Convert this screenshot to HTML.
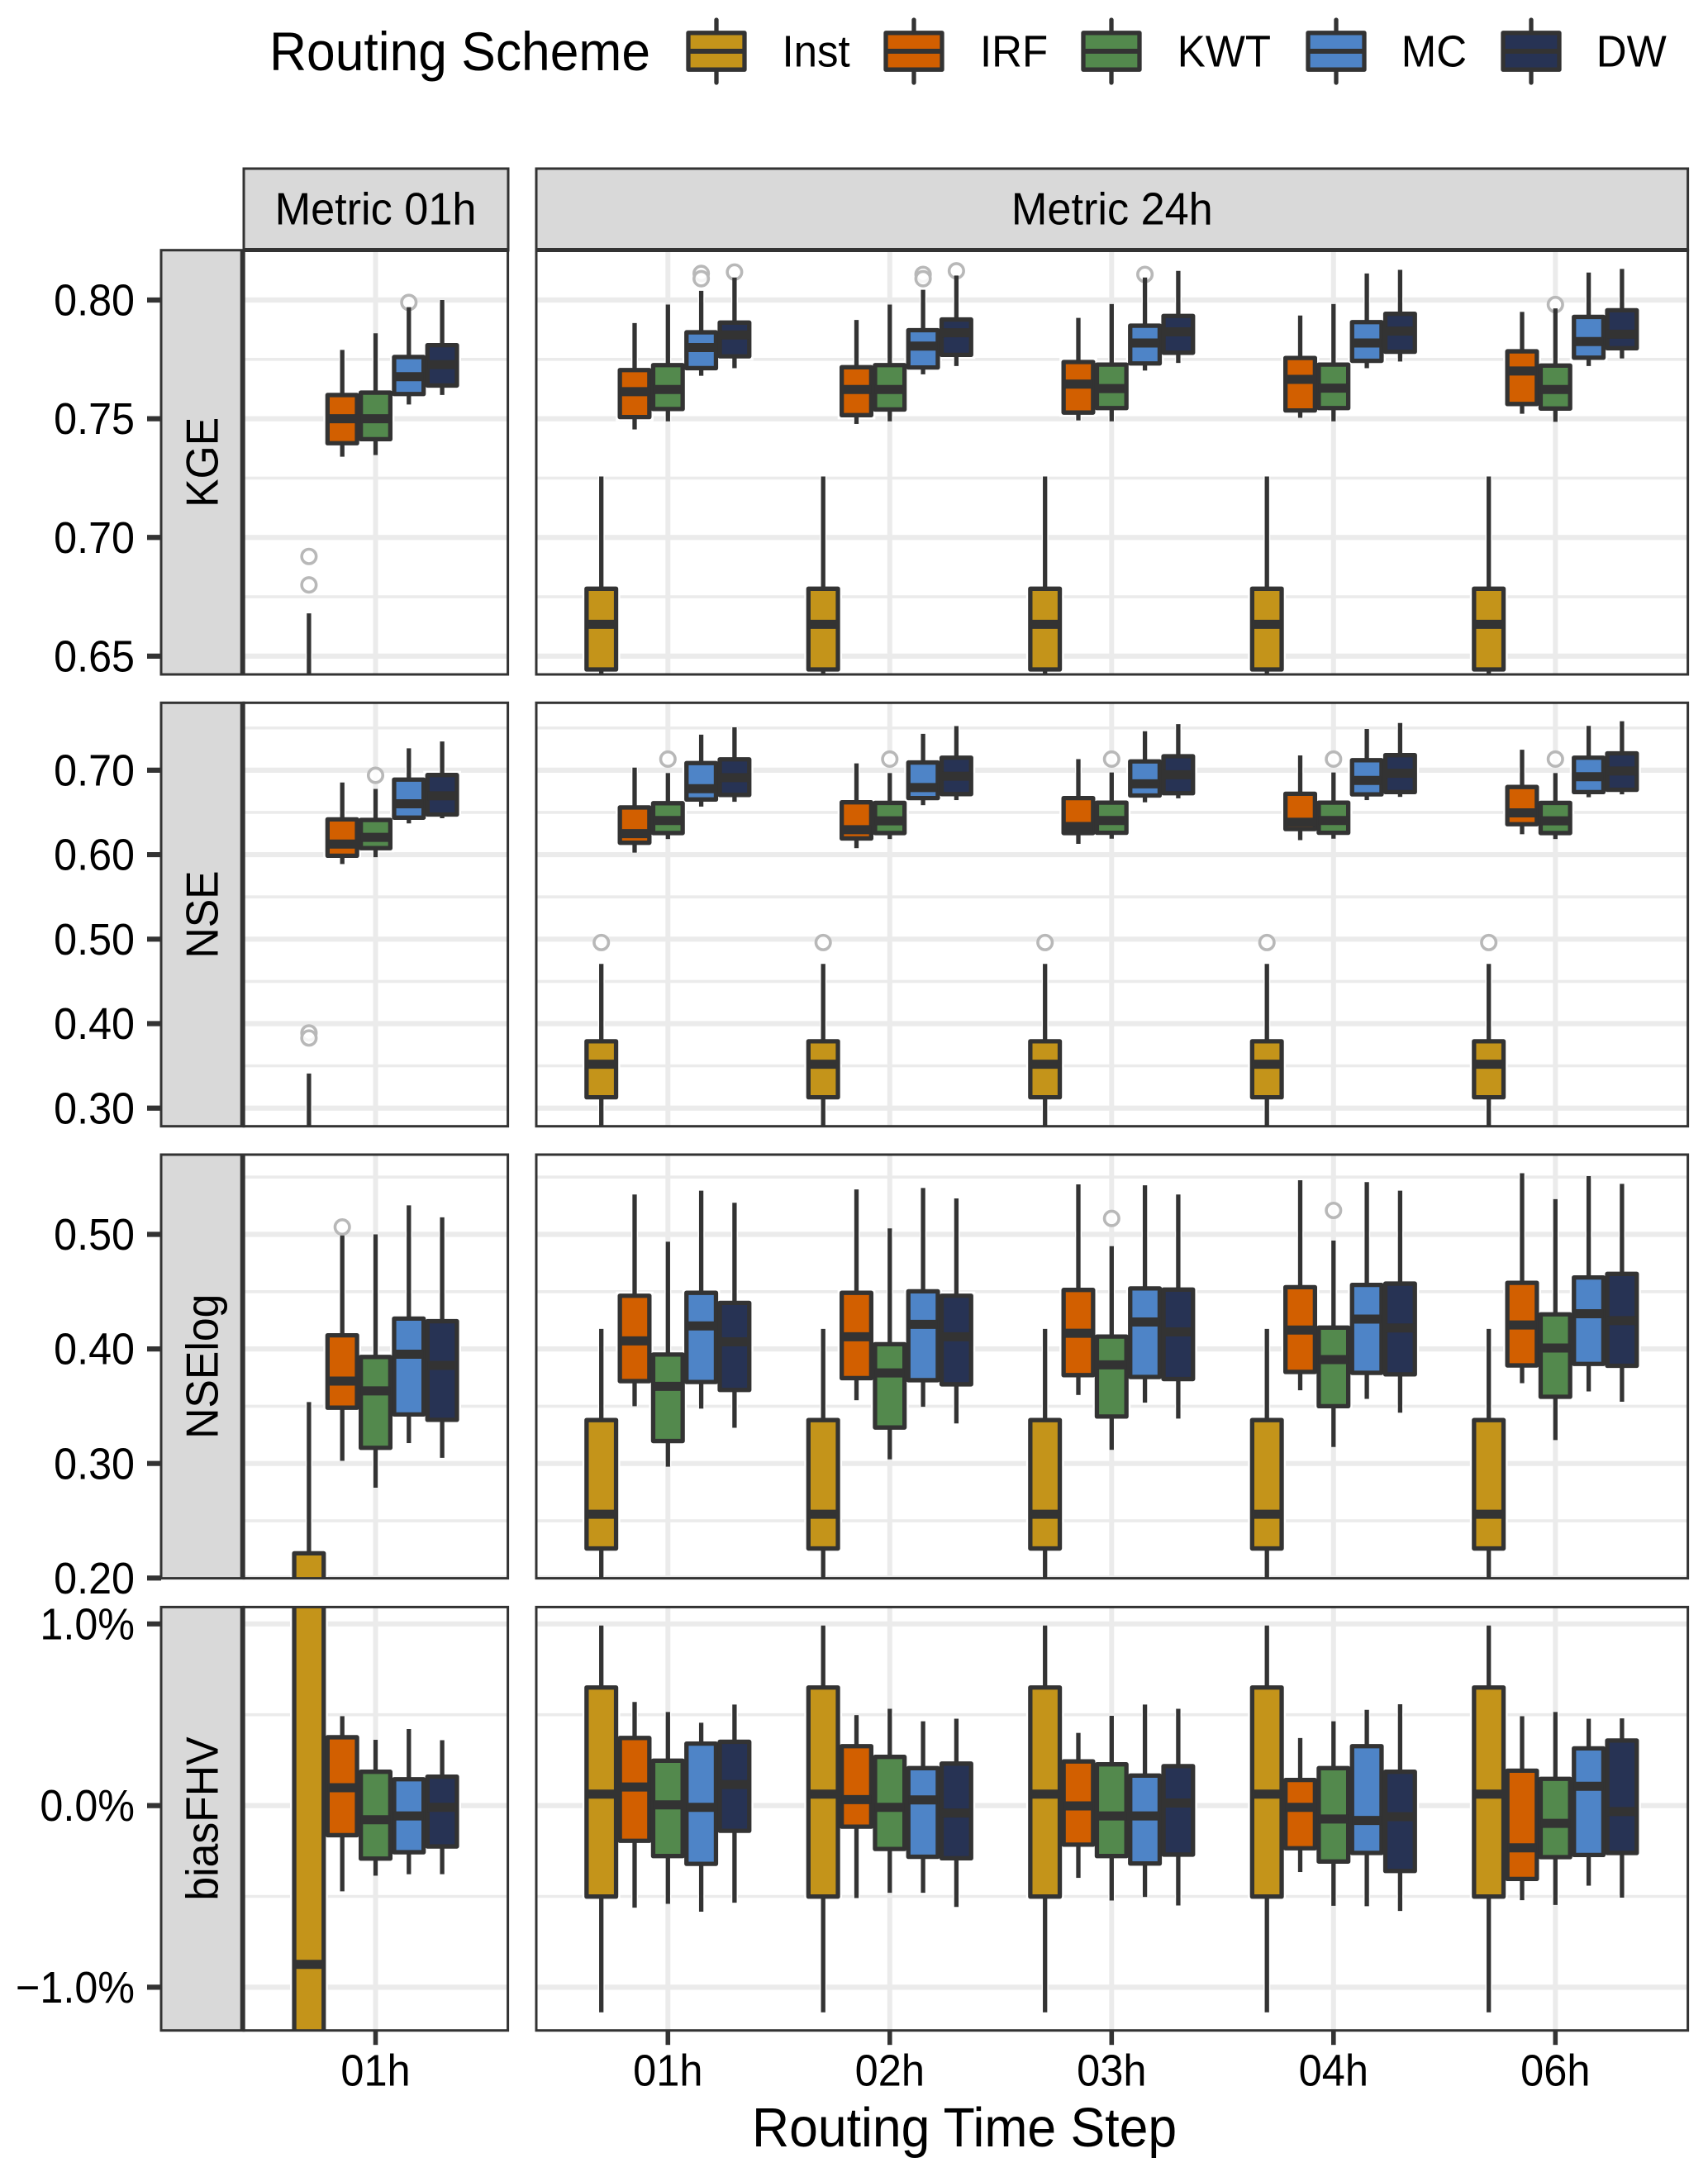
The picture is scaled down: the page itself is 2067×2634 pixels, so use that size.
<!DOCTYPE html>
<html lang="en">
<head>
<meta charset="utf-8">
<title>Routing Scheme Boxplots</title>
<style>
html,body{margin:0;padding:0;background:#fff;}
svg{display:block;font-family:"Liberation Sans",Arial,sans-serif;}
text{fill:#000;}
</style>
</head>
<body>
<svg id="chart" xmlns="http://www.w3.org/2000/svg" width="2067" height="2634" viewBox="0 0 2067 2634">
  <rect x="0" y="0" width="2067" height="2634" fill="#fff"/>
  <g id="legend">
    <text transform="translate(326 85) scale(0.945 1)" font-size="66">Routing Scheme</text>
  </g>
  <g id="panels"></g>
  <g>
    <rect x="295" y="204" width="320" height="99" fill="#d9d9d9" stroke="#333" stroke-width="3"/>
    <line x1="293.5" x2="616" y1="302.5" y2="302.5" stroke="#333" stroke-width="5"/>
    <text transform="translate(454.5 271.5) scale(0.95 1)" font-size="55" text-anchor="middle">Metric 01h</text>
  </g>
  <g>
    <rect x="649" y="204" width="1393.6" height="99" fill="#d9d9d9" stroke="#333" stroke-width="3"/>
    <line x1="647.5" x2="2044" y1="302.5" y2="302.5" stroke="#333" stroke-width="5"/>
    <text transform="translate(1345.8 271.5) scale(0.95 1)" font-size="55" text-anchor="middle">Metric 24h</text>
  </g>
  <text transform="translate(910 2597) scale(0.94 1)" font-size="66.5">Routing Time Step</text>
</svg>
<script>
// ---- categories ----
const schemes = ['Inst', 'IRF', 'KWT', 'MC', 'DW'];
const timeSteps24h = ['01h', '02h', '03h', '04h', '06h'];
const timeSteps01h = ['01h'];
const metricNames = ['KGE', 'NSE', 'NSElog', 'biasFHV'];

// ---- tick values ----
const kgeTicks = [0.65, 0.70, 0.75, 0.80];
const kgeMinorTicks = [0.675, 0.725, 0.775];
const nseTicks = [0.30, 0.40, 0.50, 0.60, 0.70];
const nseMinorTicks = [0.35, 0.45, 0.55, 0.65, 0.75];
const nselogTicks = [0.20, 0.30, 0.40, 0.50];
const nselogMinorTicks = [0.25, 0.35, 0.45, 0.55];
const biasTicks = [-1, 0, 1];
const biasMinorTicks = [-0.5, 0.5];

// ---- box statistics: one row per scheme, [low whisker, q1, median, q3, high whisker] ----
const kgeM01_01h = [[0.60,0.61,0.62,0.63,0.668],[0.734,0.7397,0.75,0.76,0.779],[0.7347,0.7414,0.75,0.761,0.786],[0.756,0.7604,0.7677,0.776,0.797],[0.76,0.764,0.7728,0.781,0.80]];
const kgeM24_01h = [[0.6425,0.6444,0.6634,0.6784,0.7257],[0.7455,0.7507,0.7614,0.7705,0.7903],[0.7489,0.7541,0.7623,0.7726,0.7981],[0.7681,0.7713,0.78,0.7864,0.8039],[0.7713,0.7763,0.7853,0.7905,0.8095]];
const kgeM24_02h = [[0.6425,0.6444,0.6634,0.6784,0.7257],[0.7478,0.7515,0.7623,0.7717,0.7916],[0.7489,0.7539,0.7623,0.7726,0.7981],[0.7687,0.7716,0.7806,0.7873,0.8043],[0.7722,0.7769,0.7862,0.7918,0.8103]];
const kgeM24_03h = [[0.6425,0.6444,0.6634,0.6784,0.7257],[0.7493,0.7526,0.7646,0.7739,0.7925],[0.7489,0.7545,0.7627,0.7728,0.7983],[0.7703,0.7733,0.7819,0.7892,0.8095],[0.7735,0.7778,0.7866,0.7933,0.8123]];
const kgeM24_04h = [[0.6425,0.6444,0.6634,0.6784,0.7257],[0.7504,0.7535,0.7666,0.7756,0.7935],[0.7489,0.7545,0.7629,0.7728,0.7983],[0.7713,0.7744,0.7819,0.7907,0.8112],[0.7741,0.7782,0.7869,0.7942,0.8127]];
const kgeM24_06h = [[0.6425,0.6444,0.6634,0.6784,0.7257],[0.7521,0.7562,0.7701,0.7784,0.795],[0.7487,0.7543,0.7623,0.7724,0.7965],[0.7722,0.7757,0.7825,0.7929,0.8116],[0.7754,0.7797,0.7856,0.7957,0.8131]];

const nseM01_01h = [[0.15,0.17,0.20,0.23,0.341],[0.5889,0.5987,0.6125,0.6418,0.6855],[0.597,0.6077,0.6205,0.6411,0.6778],[0.637,0.6438,0.6603,0.6889,0.7259],[0.6431,0.6475,0.6697,0.6943,0.734]];
const nseM24_01h = [[0.27,0.3128,0.3519,0.3791,0.4707],[0.6024,0.6141,0.6249,0.6559,0.703],[0.6185,0.6256,0.6404,0.6609,0.6966],[0.6569,0.6653,0.6781,0.7084,0.7421],[0.6626,0.6707,0.6912,0.7128,0.7508]];
const nseM24_02h = [[0.27,0.3128,0.3519,0.3791,0.4707],[0.6077,0.6192,0.6295,0.662,0.7081],[0.6185,0.6256,0.6401,0.6613,0.6966],[0.6586,0.667,0.6795,0.7091,0.7431],[0.6646,0.6717,0.6929,0.7148,0.7522]];
const nseM24_03h = [[0.27,0.3128,0.3519,0.3791,0.4707],[0.6128,0.6256,0.6333,0.667,0.7131],[0.6189,0.6259,0.6404,0.6616,0.6973],[0.662,0.67,0.6838,0.7104,0.7461],[0.6667,0.6727,0.6946,0.7165,0.7545]];
const nseM24_04h = [[0.27,0.3128,0.3519,0.3791,0.4707],[0.6172,0.6303,0.6384,0.6721,0.7175],[0.6189,0.6259,0.6404,0.6616,0.6973],[0.6646,0.6714,0.6879,0.7118,0.7488],[0.6684,0.6741,0.6963,0.7178,0.7559]];
const nseM24_06h = [[0.27,0.3128,0.3519,0.3791,0.4707],[0.6242,0.636,0.6495,0.6801,0.7242],[0.6185,0.6256,0.6401,0.6613,0.6966],[0.668,0.6741,0.6923,0.7148,0.7525],[0.6714,0.6768,0.699,0.7199,0.7579]];

const logM01_01h = [[0.10,0.14,0.17,0.2216,0.3536],[0.3023,0.3487,0.3719,0.4119,0.499],[0.2789,0.3137,0.3634,0.393,0.50],[0.3178,0.3428,0.3954,0.4265,0.5253],[0.3049,0.3381,0.3856,0.4242,0.5149]];
const logM24_01h = [[0.19,0.2258,0.2557,0.3379,0.4175],[0.35,0.3719,0.407,0.4464,0.5348],[0.2972,0.3196,0.3673,0.3951,0.4936],[0.3479,0.3711,0.4201,0.449,0.5381],[0.3312,0.3642,0.4062,0.4402,0.5276]];
const logM24_02h = [[0.19,0.2258,0.2557,0.3379,0.4175],[0.3552,0.3745,0.4106,0.449,0.5392],[0.3036,0.3314,0.3791,0.4041,0.5052],[0.3495,0.3727,0.4214,0.4503,0.5405],[0.335,0.3691,0.4106,0.4464,0.5314]];
const logM24_03h = [[0.19,0.2258,0.2557,0.3379,0.4175],[0.3598,0.3771,0.4137,0.4515,0.5436],[0.3119,0.341,0.3861,0.4108,0.4897],[0.3531,0.3755,0.4235,0.4528,0.5428],[0.3392,0.3737,0.4149,0.4518,0.5348]];
const logM24_04h = [[0.19,0.2258,0.2557,0.3379,0.4175],[0.3639,0.3799,0.4165,0.4539,0.5472],[0.3144,0.35,0.3907,0.4186,0.4946],[0.3564,0.3791,0.426,0.4559,0.5456],[0.3443,0.3778,0.4183,0.457,0.5381]];
const logM24_06h = [[0.19,0.2258,0.2557,0.3379,0.4175],[0.3701,0.3856,0.4209,0.4577,0.5534],[0.3204,0.3582,0.4008,0.4302,0.5307],[0.3629,0.3869,0.4307,0.4624,0.5508],[0.3539,0.3853,0.4247,0.4655,0.5441]];

const biasM01_01h = [[-2.2,-1.8,-0.874,1.6,1.9],[-0.472,-0.163,0.098,0.376,0.492],[-0.386,-0.292,-0.078,0.186,0.362],[-0.378,-0.257,-0.057,0.145,0.421],[-0.378,-0.225,-0.01,0.159,0.36]];
const biasM24_01h = [[-1.138,-0.501,0.063,0.65,0.991],[-0.562,-0.194,0.102,0.372,0.57],[-0.541,-0.278,0.004,0.247,0.515],[-0.584,-0.321,-0.01,0.341,0.456],[-0.535,-0.139,0.116,0.351,0.556]];
const biasM24_02h = [[-1.138,-0.501,0.063,0.65,0.991],[-0.509,-0.116,0.033,0.327,0.498],[-0.48,-0.239,-0.01,0.268,0.533],[-0.48,-0.282,0.031,0.206,0.464],[-0.558,-0.29,-0.041,0.231,0.478]];
const biasM24_03h = [[-1.138,-0.501,0.063,0.65,0.991],[-0.398,-0.215,-0.002,0.243,0.4],[-0.523,-0.278,-0.057,0.227,0.494],[-0.503,-0.319,-0.057,0.165,0.556],[-0.55,-0.27,0.014,0.217,0.533]];
const biasM24_04h = [[-1.138,-0.501,0.063,0.65,0.991],[-0.366,-0.235,-0.01,0.141,0.372],[-0.552,-0.308,-0.074,0.206,0.464],[-0.554,-0.261,-0.082,0.327,0.527],[-0.58,-0.36,-0.061,0.186,0.558]];
const biasM24_06h = [[-1.138,-0.501,0.063,0.65,0.991],[-0.521,-0.404,-0.233,0.192,0.492],[-0.547,-0.284,-0.098,0.147,0.515],[-0.441,-0.272,0.106,0.315,0.478],[-0.507,-0.261,-0.033,0.358,0.48]];

// ---- outliers: [column, time-step index, scheme index, value] ----
const kgeOutliers = [[0,0,0,0.692],[0,0,0,0.680],[0,0,3,0.799],[1,0,3,0.8112],[1,0,3,0.809],[1,0,4,0.8118],[1,1,3,0.8108],[1,1,3,0.809],[1,1,4,0.8123],[1,2,3,0.8108],[1,4,2,0.7981]];
const nseOutliers = [[0,0,0,0.389],[0,0,0,0.383],[0,0,2,0.6939],[1,0,0,0.496],[1,1,0,0.496],[1,2,0,0.496],[1,3,0,0.496],[1,4,0,0.496],[1,0,2,0.7131],[1,1,2,0.7131],[1,2,2,0.7131],[1,3,2,0.7131],[1,4,2,0.7131]];
const logOutliers = [[0,0,1,0.5064],[1,2,2,0.5139],[1,3,2,0.5209]];
const biasOutliers = [];

// ---- layout and style ----
const svgNS = 'http://www.w3.org/2000/svg';
const schemeColors = ['#c4941a', '#d25f00', '#53894d', '#4e84c7', '#273354'];
const ink = '#333333';
const columns = [
  { left: 295, right: 614.6, firstCenter: 454.5, step: 268.5, steps: timeSteps01h, name: 'metric-01h' },
  { left: 649, right: 2042.6, firstCenter: 808.3, step: 268.5, steps: timeSteps24h, name: 'metric-24h' }
];
const dodge = 40.3;
const boxWidth = 35.7;
const rows = [
  { label: metricNames[0], top: 302.7, bottom: 816, domain: [0.6423, 0.821], ticks: kgeTicks, minor: kgeMinorTicks, fmt: function (v) { return v.toFixed(2); }, data: [[kgeM01_01h], [kgeM24_01h, kgeM24_02h, kgeM24_03h, kgeM24_04h, kgeM24_06h]], outliers: kgeOutliers },
  { label: metricNames[1], top: 850.3, bottom: 1362.7, domain: [0.2785, 0.7798], ticks: nseTicks, minor: nseMinorTicks, fmt: function (v) { return v.toFixed(2); }, data: [[nseM01_01h], [nseM24_01h, nseM24_02h, nseM24_03h, nseM24_04h, nseM24_06h]], outliers: nseOutliers },
  { label: metricNames[2], top: 1397, bottom: 1909.6, domain: [0.1998, 0.5696], ticks: nselogTicks, minor: nselogMinorTicks, fmt: function (v) { return v.toFixed(2); }, data: [[logM01_01h], [logM24_01h, logM24_02h, logM24_03h, logM24_04h, logM24_06h]], outliers: logOutliers },
  { label: metricNames[3], top: 1944.4, bottom: 2456.7, domain: [-1.238, 1.0928], ticks: biasTicks, minor: biasMinorTicks, fmt: function (v) { return (v < 0 ? '\u2212' : '') + Math.abs(v).toFixed(1) + '%'; }, data: [[biasM01_01h], [biasM24_01h, biasM24_02h, biasM24_03h, biasM24_04h, biasM24_06h]], outliers: biasOutliers }
];

function el(tag, parent, props) {
  const node = document.createElementNS(svgNS, tag);
  for (const k in props) node.setAttribute(k, props[k]);
  parent.appendChild(node);
  return node;
}
function yScale(row, v) {
  return row.bottom - (v - row.domain[0]) / (row.domain[1] - row.domain[0]) * (row.bottom - row.top);
}
function xCenter(col, stepIndex) {
  return col.firstCenter + stepIndex * col.step;
}
function xDodged(col, stepIndex, schemeIndex) {
  return xCenter(col, stepIndex) + (schemeIndex - 2) * dodge;
}

const panelsRoot = document.getElementById('panels');
const defs = el('defs', panelsRoot, {});

rows.forEach(function (row, r) {
  const rowSlug = row.label.toLowerCase();
  const rowGroup = el('g', panelsRoot, {});
  
  

  // strip on the left
  const strip = el('rect', rowGroup, { x: 195, y: row.top, width: 100, height: row.bottom - row.top, fill: '#d9d9d9', stroke: ink, 'stroke-width': 3 });
  
  
  const cy = (row.top + row.bottom) / 2;
  const stripLabel = el('text', rowGroup, { transform: 'translate(263.5 ' + cy + ') rotate(-90) scale(0.94 1)', 'font-size': 55, 'text-anchor': 'middle' });
  stripLabel.textContent = row.label;
  
  

  // y axis ticks and labels
  row.ticks.forEach(function (t) {
    const ty = yScale(row, t);
    const tick = el('line', rowGroup, { x1: 178, x2: 195, y1: ty, y2: ty, stroke: ink, 'stroke-width': 6.2 });
    
    
    const lab = el('text', rowGroup, { transform: 'translate(163 ' + (ty + 18.6) + ') scale(0.94 1)', 'font-size': 53.5, 'text-anchor': 'end' });
    lab.textContent = row.fmt(t);
    
    
  });

  columns.forEach(function (col, c) {
    const panel = el('g', rowGroup, {});
    
    
    const clipId = 'clip-' + r + '-' + c;
    const clip = el('clipPath', defs, { id: clipId });
    el('rect', clip, { x: col.left, y: row.top, width: col.right - col.left, height: row.bottom - row.top });

    const bg = el('rect', panel, { x: col.left, y: row.top, width: col.right - col.left, height: row.bottom - row.top, fill: '#ffffff' });
    
    

    const inner = el('g', panel, { 'clip-path': 'url(#' + clipId + ')' });

    row.minor.forEach(function (t) {
      const gy = yScale(row, t);
      const line = el('line', inner, { x1: col.left, x2: col.right, y1: gy, y2: gy, stroke: '#ebebeb', 'stroke-width': 3.6 });
      
      
    });
    row.ticks.forEach(function (t) {
      const gy = yScale(row, t);
      const line = el('line', inner, { x1: col.left, x2: col.right, y1: gy, y2: gy, stroke: '#ebebeb', 'stroke-width': 6.2 });
      
      
    });
    col.steps.forEach(function (s, si) {
      const gx = xCenter(col, si);
      const line = el('line', inner, { x1: gx, x2: gx, y1: row.top, y2: row.bottom, stroke: '#ebebeb', 'stroke-width': 6 });
      
      
    });

    // pale halo that keeps gridlines clear of the marks
    const halo = el('g', inner, {});
    
    
    row.data[c].forEach(function (stepData, si) {
      stepData.forEach(function (stat, k) {
        const x = xDodged(col, si, k);
        el('line', halo, { x1: x, x2: x, y1: yScale(row, stat[4]), y2: yScale(row, stat[0]), stroke: '#ffffff', 'stroke-width': 8 });
        el('rect', halo, { x: x - boxWidth / 2, y: yScale(row, stat[3]), width: boxWidth, height: yScale(row, stat[1]) - yScale(row, stat[3]), fill: '#ffffff', stroke: '#ffffff', 'stroke-width': 10 });
      });
    });

    // outliers below the boxes of the same column
    row.outliers.forEach(function (o) {
      if (o[0] !== c) return;
      const pt = el('circle', inner, { cx: xDodged(col, o[1], o[2]), cy: yScale(row, o[3]), r: 8.75, fill: '#ffffff', 'fill-opacity': 0.85, stroke: '#b8b8b8', 'stroke-width': 3.6 });
      
      
    });

    row.data[c].forEach(function (stepData, si) {
      stepData.forEach(function (stat, k) {
        const x = xDodged(col, si, k);
        const g = el('g', inner, {});
        
        
        el('line', g, { x1: x, x2: x, y1: yScale(row, stat[3]), y2: yScale(row, stat[4]), stroke: ink, 'stroke-width': 5.3 });
        el('line', g, { x1: x, x2: x, y1: yScale(row, stat[1]), y2: yScale(row, stat[0]), stroke: ink, 'stroke-width': 5.3 });
        const yTop = yScale(row, stat[3]);
        const yBot = yScale(row, stat[1]);
        el('rect', g, { x: x - boxWidth / 2, y: yTop, width: boxWidth, height: yBot - yTop, fill: schemeColors[k], stroke: ink, 'stroke-width': 5.3, 'stroke-linejoin': 'round' });
        const ym = yScale(row, stat[2]);
        el('line', g, { x1: x - boxWidth / 2, x2: x + boxWidth / 2, y1: ym, y2: ym, stroke: ink, 'stroke-width': 11 });
      });
    });

    const border = el('rect', panel, { x: col.left, y: row.top, width: col.right - col.left, height: row.bottom - row.top, fill: 'none', stroke: ink, 'stroke-width': 3 });
    
    

    if (r === rows.length - 1) {
      col.steps.forEach(function (s, si) {
        const tx = xCenter(col, si);
        const tick = el('line', panel, { x1: tx, x2: tx, y1: row.bottom, y2: row.bottom + 17.5, stroke: ink, 'stroke-width': 5.6 });
        
        
        const lab = el('text', panel, { transform: 'translate(' + tx + ' 2523.5) scale(0.945 1)', 'font-size': 53.5, 'text-anchor': 'middle' });
        lab.textContent = s;
        
        
      });
    }
  });

  // thick divider between the left strip and the first panel
  const divider = el('line', rowGroup, { x1: 293.7, x2: 293.7, y1: row.top, y2: row.bottom, stroke: ink, 'stroke-width': 6 });
  
  
});

// ---- legend ----
const legendRoot = document.getElementById('legend');
const legendKeyX = [867, 1106, 1345, 1617, 1853];
const legendLabelX = [946.5, 1186, 1424.7, 1695.7, 1931.8];
schemes.forEach(function (name, k) {
  const g = el('g', legendRoot, {});
  
  
  const cx = legendKeyX[k];
  el('line', g, { x1: cx, x2: cx, y1: 24, y2: 100, stroke: ink, 'stroke-width': 5.3, 'stroke-linecap': 'round' });
  el('rect', g, { x: cx - 34, y: 39.8, width: 68, height: 44.4, fill: schemeColors[k], stroke: ink, 'stroke-width': 5.3, 'stroke-linejoin': 'round' });
  el('line', g, { x1: cx - 34, x2: cx + 34, y1: 62, y2: 62, stroke: ink, 'stroke-width': 6 });
  const t = el('text', g, { transform: 'translate(' + legendLabelX[k] + ' 80.5) scale(0.945 1)', 'font-size': 54 });
  t.textContent = name;
});
</script>
</body>
</html>
